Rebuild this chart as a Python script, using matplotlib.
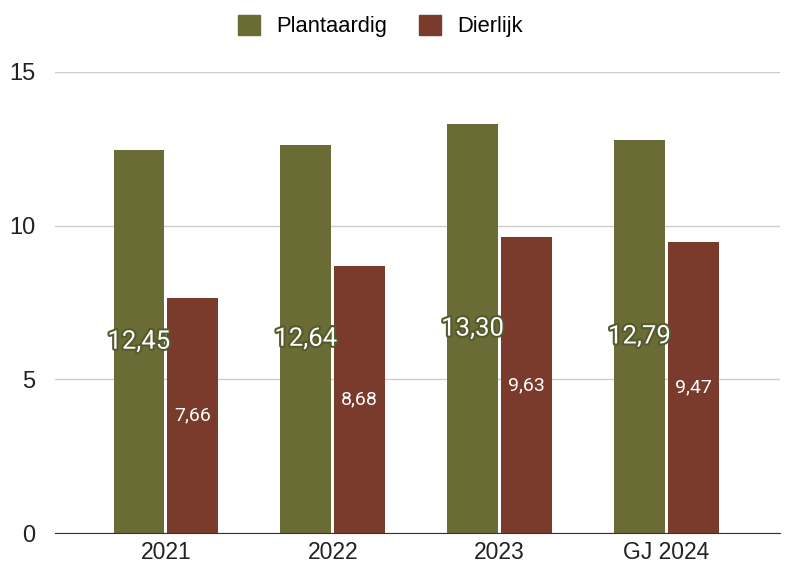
import numpy as np
import matplotlib.pyplot as plt
import matplotlib.patheffects as pe
from matplotlib.patches import Patch

categories = ["2021", "2022", "2023", "GJ 2024"]
plantaardig = [12.45, 12.64, 13.30, 12.79]
dierlijk = [7.66, 8.68, 9.63, 9.47]

green = "#6a6b35"
brown = "#7a3b2c"

plt.rcParams['font.family'] = ['Liberation Sans', 'DejaVu Sans']

fig = plt.figure(figsize=(7.85, 5.74), dpi=100)
ax = fig.add_axes([0.070, 0.0714, 0.9236, 0.8032])

x = np.arange(len(categories))
w = 0.305
gap = 0.009
b1 = ax.bar(x - w / 2 - gap, plantaardig, w, color=green, label="Plantaardig", zorder=3)
b2 = ax.bar(x + w / 2 + gap, dierlijk, w, color=brown, label="Dierlijk", zorder=3)

# labels in the middle of the bars
for rect, v in zip(b1, plantaardig):
    ax.text(rect.get_x() + rect.get_width() / 2, v / 2, f"{v:.2f}".replace(".", ","),
            ha="center", va="center", color="white", fontsize=18.5, family="Roboto", zorder=4,
            path_effects=[pe.withStroke(linewidth=3, foreground="#535a2c")])
for rect, v in zip(b2, dierlijk):
    ax.text(rect.get_x() + rect.get_width() / 2, v / 2, f"{v:.2f}".replace(".", ","),
            ha="center", va="center", color="white", fontsize=14, family="Roboto", zorder=4)

ax.set_ylim(0, 15)
ax.set_yticks([0, 5, 10, 15])
ax.set_xlim(-0.665, 3.68)
ax.set_xticks(x)
ax.set_xticklabels(categories)
ax.grid(axis="y", color="#cccccc", linewidth=1, zorder=0)
for s in ["top", "right", "left"]:
    ax.spines[s].set_visible(False)
ax.spines["bottom"].set_color("#333333")
ax.spines["bottom"].set_zorder(5)
ax.tick_params(axis="both", length=0, colors="#222222")
ax.tick_params(axis="y", pad=14, labelsize=17)
ax.tick_params(axis="x", pad=6, labelsize=16.5)

handles = [Patch(facecolor=green, edgecolor=green), Patch(facecolor=brown, edgecolor=brown)]
fig.legend(handles, ["Plantaardig", "Dierlijk"], loc="upper center", bbox_to_anchor=(0.485, 1.008),
           ncol=2, frameon=False, fontsize=15.8, handlelength=1.0, handleheight=1.0,
           columnspacing=1.45, handletextpad=0.75)

fig.savefig("out.png", dpi=100)
